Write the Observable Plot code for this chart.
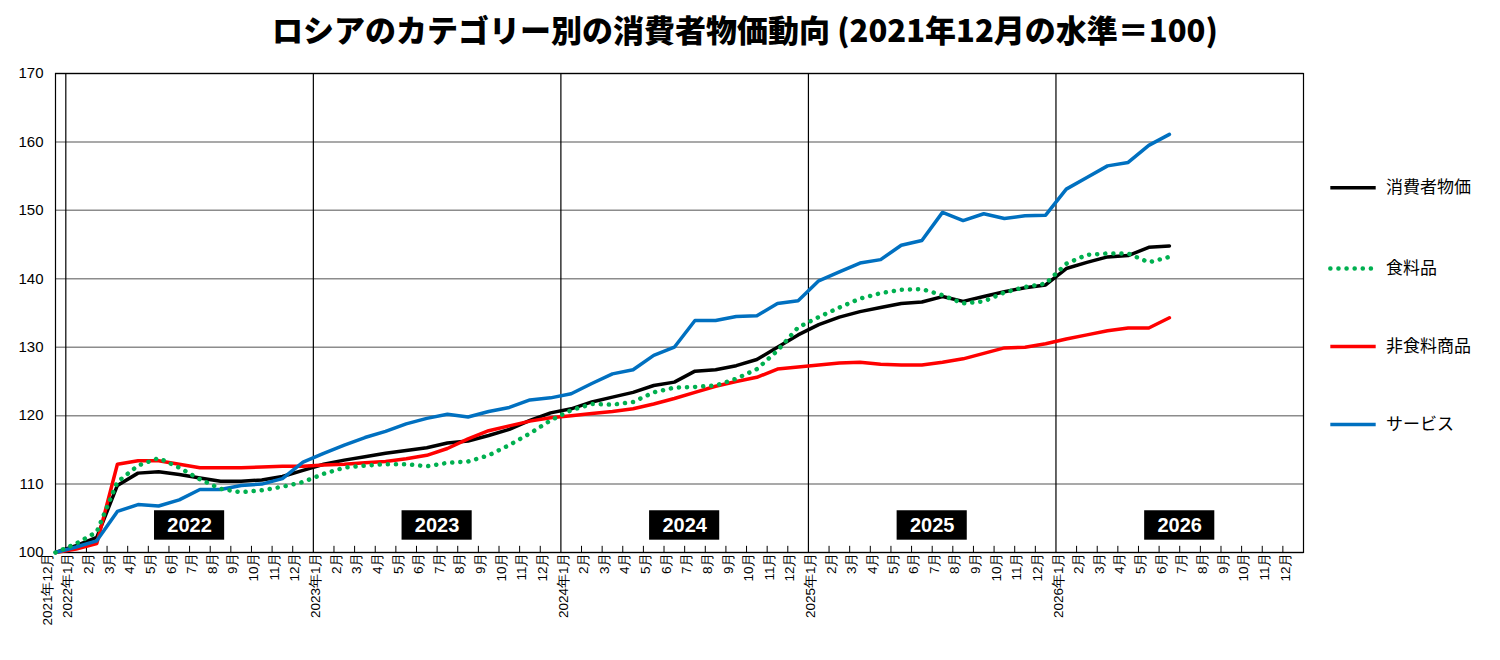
<!DOCTYPE html>
<html><head><meta charset="utf-8">
<script src="https://cdn.jsdelivr.net/npm/d3@7"></script>
<script src="https://cdn.jsdelivr.net/npm/@observablehq/plot@0.6"></script>
<style>
body{margin:0;background:#fff;font-family:"Noto Sans CJK JP",sans-serif;}
#title{height:60px;line-height:58px;text-align:center;font-weight:900;font-size:31px;padding-right:10px}
</style></head><body>
<div id="title">ロシアのカテゴリー別の消費者物価動向 (2021年12月の水準＝100)</div>
<div id="chart"></div>
<script>
const seriesNames = ["消費者物価","食料品","非食料商品","サービス"];
const cpi = [100,101.0,102.2,109.8,111.6,111.8,111.4,110.9,110.4,110.4,110.6,111.1,112.0,112.9,113.5,114.0,114.5,114.9,115.3,116.0,116.3,117.1,118.0,119.3,120.4,121.0,122.0,122.7,123.4,124.4,124.9,126.5,126.7,127.3,128.2,130.0,131.8,133.3,134.4,135.2,135.8,136.4,136.6,137.4,136.7,137.4,138.1,138.7,139.1,141.5,142.4,143.2,143.4,144.6,144.8];
const food = [100,101.3,103.0,110.3,112.7,113.8,112.4,110.7,109.3,108.8,109.1,109.6,110.3,111.5,112.4,112.7,112.9,112.9,112.6,113.1,113.3,114.2,115.7,117.4,119.3,120.8,121.7,121.6,122.0,123.4,124.1,124.2,124.4,125.4,126.8,129.5,132.9,134.4,135.8,137.1,137.9,138.4,138.5,137.6,136.4,136.7,138.0,138.8,139.3,142.2,143.5,143.7,143.7,142.4,143.2];
const nonfood = [100,100.5,101.3,112.9,113.4,113.4,112.9,112.4,112.4,112.4,112.5,112.6,112.6,112.8,112.9,113.1,113.3,113.7,114.2,115.2,116.6,117.8,118.5,119.2,119.7,120.0,120.3,120.6,121.0,121.7,122.5,123.4,124.3,125.0,125.6,126.8,127.1,127.4,127.7,127.8,127.5,127.4,127.4,127.8,128.3,129.1,129.9,130.0,130.5,131.2,131.8,132.4,132.8,132.8,134.3];
const services = [100,100.8,101.7,106.0,107.0,106.8,107.7,109.2,109.2,109.8,110.0,110.8,113.2,114.5,115.7,116.8,117.7,118.8,119.6,120.2,119.8,120.6,121.2,122.3,122.6,123.2,124.7,126.1,126.7,128.8,130.0,133.9,133.9,134.5,134.6,136.4,136.8,139.7,141.0,142.3,142.8,144.9,145.6,149.7,148.5,149.5,148.8,149.2,149.3,153.1,154.8,156.5,157.0,159.5,161.1];
const colors = ["#000000","#00b050","#ff0000","#0070c0"];
const years = [2022,2023,2024,2025,2026];
const yTicks = [100,110,120,130,140,150,160,170];
const monthCount = 61;

const labels = d3.range(monthCount).map(i => {
  const m = i % 12 === 0 ? 12 : i % 12;
  const y = 2021 + Math.ceil(i/12);
  if (i === 0) return "2021年12月";
  if (m === 1) return y + "年1月";
  return m + "月";
});
const allSeries = [cpi, food, nonfood, services];
const rows = [];
allSeries.forEach((s, k) => s.forEach((v, i) => rows.push({i, v, name: seriesNames[k]})));
const legendY = [153.3, 141.5, 130.1, 118.7];
const legendRows = seriesNames.map((n, k) => ({n, k, y: legendY[k]}));
const seps = years.map((y, k) => 0.5 + 12*k);
const tickPos = d3.range(1, 60).map(i => i + 0.5).filter(p => !seps.includes(p));
const yearRows = years.map((y, k) => ({y, c: 6.5 + 12*k}));

const font = "Noto Sans CJK JP";
const plot = Plot.plot({
  width: 1500, height: 600,
  marginLeft: 55, marginRight: 197, marginTop: 13, marginBottom: 108,
  style: {fontFamily: font, fontSize: "14px", color: "#000", background: "#fff"},
  x: {domain: [0, 60.5], axis: null},
  y: {domain: [100, 170], axis: null},
  color: {domain: seriesNames, range: colors},
  marks: [
    Plot.ruleY(yTicks, {stroke: "#8c8c8c", strokeWidth: 1.5}),
    Plot.ruleX(seps, {stroke: "#000", strokeWidth: 1.2}),
    Plot.ruleX(tickPos, {x: d => d, y1: 100, y2: 100.9, stroke: "#000", strokeWidth: 1}),
    Plot.frame({stroke: "#000", strokeWidth: 1.2}),
    Plot.text(yTicks, {x: 0, y: d => d, text: d => String(d), dx: -12, textAnchor: "end", fontSize: 15, fontFamily: "Liberation Sans"}),
    Plot.text(labels, {x: (d, i) => i, y: 100, text: d => d, rotate: -90, textAnchor: "end", dx: -8, fontSize: 13.5, fontFamily: "Liberation Sans"}),
    Plot.rect(yearRows, {x1: d => d.c - 1.7, x2: d => d.c + 1.7, y1: 101.8, y2: 106.1, fill: "#000"}),
    Plot.text(yearRows, {x: "c", y: 104, text: d => String(d.y), fill: "#fff", fontSize: 20, fontWeight: "bold", fontFamily: "Liberation Sans"}),
    Plot.line(rows.filter(r => r.name !== "食料品"), {x: "i", y: "v", z: "name", stroke: "name", strokeWidth: 3.5}),
    Plot.line(rows.filter(r => r.name === "食料品"), {x: "i", y: "v", stroke: "name", strokeWidth: 4.5, strokeDasharray: "0.1,8", strokeLinecap: "round"}),
    Plot.link(legendRows.filter(d => d.k !== 1), {x1: 61.8, x2: 64.0, y1: "y", y2: "y", stroke: "n", strokeWidth: 3.5}),
    Plot.link(legendRows.filter(d => d.k === 1), {x1: 61.8, x2: 64.0, y1: "y", y2: "y", stroke: "n", strokeWidth: 4.5, strokeDasharray: "0.1,8", strokeLinecap: "round"}),
    Plot.text(legendRows, {x: 64.5, y: "y", text: "n", textAnchor: "start", fontSize: 17})
  ]
});
document.getElementById("chart").appendChild(plot);
</script></body></html>
